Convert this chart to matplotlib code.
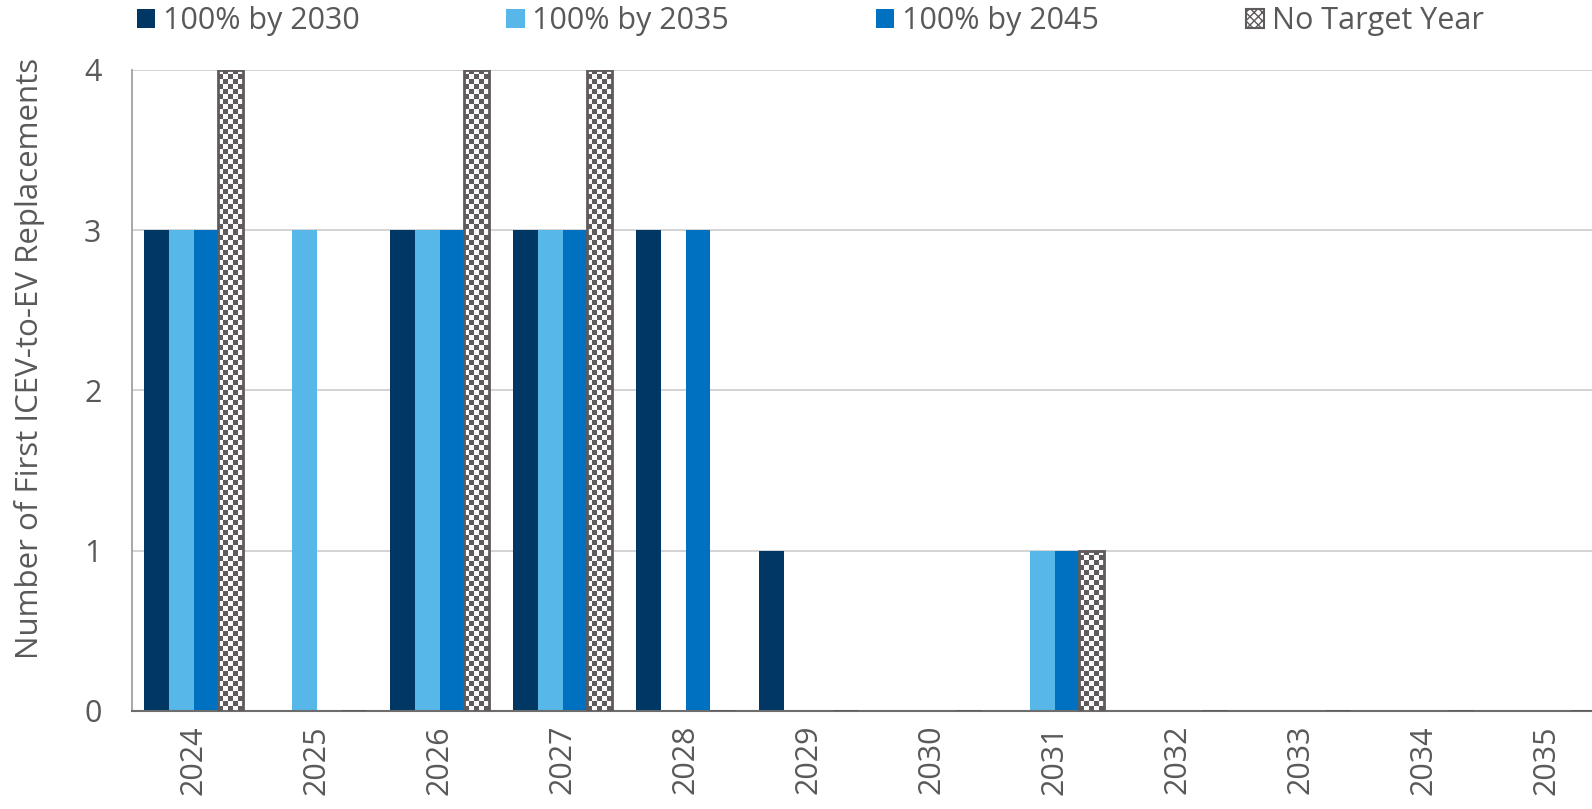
import numpy as np
import matplotlib
matplotlib.use("Agg")
from matplotlib import pyplot as plt
from matplotlib.patches import Patch
from matplotlib.colors import ListedColormap

plt.rcParams["font.family"] = ["Open Sans", "DejaVu Sans"]

years = ["2024", "2025", "2026", "2027", "2028", "2029",
         "2030", "2031", "2032", "2033", "2034", "2035"]
by2030 = [3, 0, 3, 3, 3, 1, 0, 0, 0, 0, 0, 0]
by2035 = [3, 3, 3, 3, 0, 0, 0, 1, 0, 0, 0, 0]
by2045 = [3, 0, 3, 3, 3, 0, 0, 1, 0, 0, 0, 0]
no_target = [4, 0, 4, 4, 0, 0, 0, 1, 0, 0, 0, 0]

series_names = ["100% by 2030", "100% by 2035", "100% by 2045", "No Target Year"]
series_colors = ["#003764", "#56b7e8", "#0070c0"]
grey_text = "#595959"
hatch_grey = "#5f5a5b"

fig = plt.figure(figsize=(15.92, 8.09), dpi=100)
# axes runs a little past the right edge of the figure
ax = fig.add_axes([132 / 1592, 1 - 711 / 809, 1476 / 1592, 641 / 809])

x = np.arange(len(years))
w = 0.2
offsets = [-1.5 * w, -0.5 * w, 0.5 * w, 1.5 * w]

for vals, col, off in zip([by2030, by2035, by2045], series_colors, offsets[:3]):
    ax.bar(x + off, vals, width=w, color=col, linewidth=0, zorder=2)

# "no target" bars: outline only, filled with a checker texture
px_per_unit = 641 / 4
cell = 5.0
hbars = ax.bar(x + offsets[3], no_target, width=w, facecolor="none",
               edgecolor=hatch_grey, linewidth=2, zorder=4)
checker = ListedColormap(["#fbfbfb", hatch_grey])
for b, v in zip(hbars, no_target):
    if v <= 0:
        continue
    ny = int(round(v * px_per_unit / cell))
    nx = int(round(w * 123 / cell))
    tex = (np.add.outer(np.arange(ny), np.arange(nx)) % 2).astype(float)
    im = ax.imshow(tex, cmap=checker, vmin=0, vmax=1,
                   extent=(b.get_x(), b.get_x() + b.get_width(), 0, v),
                   interpolation="nearest", aspect="auto", zorder=3)
    im.set_clip_path(b)

ax.set_xlim(-0.5, len(years) - 0.5)
ax.set_ylim(0, 4)

ax.set_yticks([0, 1, 2, 3, 4])
ax.yaxis.grid(True, color="#d0d0d0", linewidth=1.3, zorder=0)
ax.set_axisbelow(True)
ax.set_xticks(x)
ax.set_xticklabels(years, rotation=90)
ax.tick_params(axis="both", length=0, labelsize=22, colors=grey_text)
ax.tick_params(axis="x", pad=10)
ax.tick_params(axis="y", pad=22)

for s in ["top", "right"]:
    ax.spines[s].set_visible(False)
ax.spines["left"].set_color("#a0a0a0")
ax.spines["left"].set_linewidth(1.3)
ax.spines["bottom"].set_color("#6d6d6d")
ax.spines["bottom"].set_linewidth(1.5)

ax.set_ylabel("Number of First ICEV-to-EV Replacements", fontsize=22.5, color=grey_text)
ax.yaxis.set_label_coords(-0.059, 0.55)

handles = [Patch(facecolor=c, edgecolor="none") for c in series_colors]
handles.append(Patch(facecolor="white", edgecolor=hatch_grey, hatch="xxxx", linewidth=1.5))
fig.legend(handles, series_names, loc="center left", bbox_to_anchor=(137 / 1592, 1 - 21 / 809),
           ncol=4, frameon=False, fontsize=22, labelcolor=grey_text,
           handlelength=0.6, handleheight=0.6, handletextpad=0.25,
           columnspacing=4.8, borderpad=0, borderaxespad=0)

plt.savefig("out.png", dpi=100)
plt.close()
